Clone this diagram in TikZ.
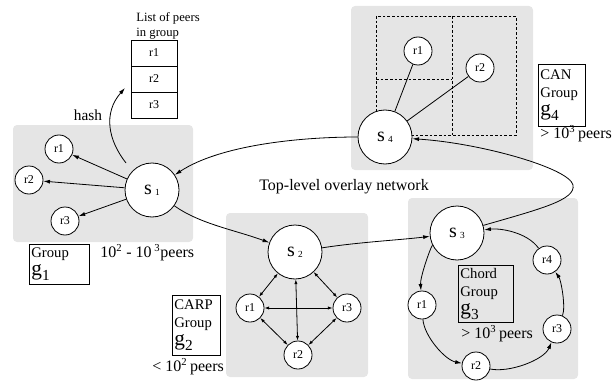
\documentclass[tikz,border=0pt]{standalone}
\usepackage{fontspec}
\setmainfont{Liberation Serif}
\usetikzlibrary{arrows.meta}
% super-peer label: big s with a tiny index
\newcommand\snum[1]{{\fontsize{15}{15}\selectfont s}\hspace{2.5pt}\raisebox{-1pt}{\fontsize{7}{7}\selectfont #1}}
% group name: big g with a lowered index
\newcommand\gnum[1]{{\fontsize{16}{16}\selectfont g}\raisebox{-3.5pt}{\fontsize{11.5}{11.5}\selectfont #1}}
\begin{document}
\begin{tikzpicture}[x=0.75pt,y=-0.75pt,line width=0.6pt,
  grp/.style={fill=black!10,rounded corners=3pt},
  big/.style={circle,draw,fill=white,minimum size=40.5pt,inner sep=0pt},
  peer/.style={circle,draw,fill=white,minimum size=21pt,inner sep=0pt,font=\fontsize{9}{9}\selectfont},
  lbox/.style={draw,align=left,inner sep=1.5pt,anchor=north west,font=\fontsize{11}{13.5}\selectfont},
  cell/.style={draw,minimum width=34.5pt,minimum height=19.5pt,inner sep=0pt,font=\fontsize{9}{9}\selectfont},
  count/.style={anchor=west,inner sep=0pt,font=\fontsize{12}{12}\selectfont},
  tip/.style={-{Latex[length=5pt,width=3pt]}},
  dtip/.style={{Latex[length=3.5pt,width=2.4pt]}-{Latex[length=3.5pt,width=2.4pt]}}]
\useasboundingbox (0,0) rectangle (616,381);

% group panels
\fill[grp] (13,125) rectangle (193,242);
\fill[grp] (351,6) rectangle (533,170);
\fill[grp] (226,213) rectangle (368,377);
\fill[grp] (408,198) rectangle (578,379);

% CAN zones
\draw[dash pattern=on 2pt off 1.5pt] (376,16) rectangle (516,135);
\draw[dash pattern=on 2pt off 1.5pt] (452,16) -- (452,135);
\draw[dash pattern=on 2pt off 1.5pt] (376,79) -- (452,79);

% peer list
\node[align=left,anchor=north west,inner sep=0pt,font=\fontsize{9.5}{11.25}\selectfont] (listtitle) at (136,12) {List of peers\\in group};
\node[cell] (cell1) at (154,53) {r1};
\node[cell] (cell2) at (154,79) {r2};
\node[cell] (cell3) at (154,105) {r3};
\node[font=\fontsize{11.5}{11.5}\selectfont] (hashlbl) at (88,115) {hash};

% group g1
\node[big] (s1) at (152,190) {\snum{1}};
\node[peer] (a1) at (59,149) {r1};
\node[peer] (a2) at (29,180) {r2};
\node[peer] (a3) at (65,221) {r3};
\node[lbox,text width=42pt,minimum height=30pt] (g1box) at (29,244) {Group\\\gnum{1}};
\node[count] (g1count) at (100,253) {10\textsuperscript{2} - 10\,\textsuperscript{3}peers};

% group g4 (CAN)
\node[big] (s4) at (385,137) {\snum{4}};
\node[peer] (b1) at (418,51) {r1};
\node[peer] (b2) at (480,68) {r2};
\node[lbox,text width=32pt,minimum height=46.5pt] (g4box) at (538,64) {CAN\\Group\\\gnum{4}};
\node[count] (g4count) at (540,134) {> 10\textsuperscript{3}\,peers};

% group g2 (CARP)
\node[big] (s2) at (295,252) {\snum{2}};
\node[peer] (c1) at (250,308) {r1};
\node[peer] (c3) at (347,308) {r3};
\node[peer] (c2) at (298,355) {r2};
\node[lbox,text width=33pt,minimum height=45pt] (g2box) at (172,295) {CARP\\Group\\\gnum{2}};
\node[count] (g2count) at (152,367) {< 10\textsuperscript{2}\,peers};

% group g3 (Chord)
\node[big] (s3) at (457,233) {\snum{3}};
\node[peer] (d1) at (422,305) {r1};
\node[peer] (d2) at (476,366) {r2};
\node[peer] (d3) at (557,329) {r3};
\node[peer] (d4) at (547,260) {r4};
\node[lbox,text width=38pt,minimum height=43pt] (g3box) at (458,265) {Chord\\Group\\\gnum{3}};
\node[count] (g3count) at (461,334) {> 10\textsuperscript{3}\,peers};

\node[font=\fontsize{12}{12}\selectfont] (toplbl) at (344,187) {Top-level overlay network};

% g1 links
\draw[tip] (s1) -- (a1);
\draw[tip] (s1) -- (a2);
\draw[tip] (s1) -- (a3);
\coordinate (hashfrom) at (126,163);
\coordinate (hashto) at (125,88);
\draw[tip] (hashfrom) .. controls (108,140) and (103,113) .. (hashto);

% CAN links
\draw (s4) -- (b1);
\draw (s4) -- (b2);

% CARP links
\draw[dtip] (s2) -- (c1);
\draw[dtip] (s2) -- (c3);
\draw[dtip] (s2) -- (c2);
\draw[dtip] (c1) -- (c3);
\draw[dtip] (c1) -- (c2);
\draw[dtip] (c3) -- (c2);

% Chord ring (arcs of one circle)
\draw[tip] (s3) .. controls (431,246) and (420,277) .. (d1);
\draw[tip] (d1) .. controls (424,336) and (445,360) .. (d2);
\draw[tip] (d2) .. controls (509,373) and (544,360) .. (d3);
\draw[tip] (d3) .. controls (566,307) and (561,280) .. (d4);
\draw[tip] (d4) .. controls (527,232) and (500,228) .. (s3);

% top-level overlay
\draw[tip] (s4) .. controls (300,137) and (220,145) .. (s1);
\draw[tip] (s1) .. controls (200,224) and (235,230) .. (s2);
\draw[tip] (s2) .. controls (360,242) and (400,240) .. (s3);
\coordinate (bendpt) at (573,185);
\draw[tip] (s3) .. controls (540,209) and (576,200) .. (bendpt) .. controls (569,168) and (480,143) .. (s4);
\end{tikzpicture}
\end{document}
